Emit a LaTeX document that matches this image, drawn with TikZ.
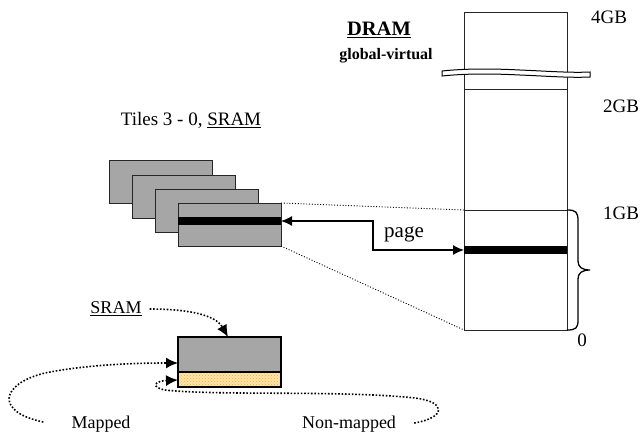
\documentclass[tikz,border=0pt]{standalone}
\usepackage{fontspec}
\setmainfont{Liberation Serif}
\usetikzlibrary{arrows.meta,patterns,calc}
\definecolor{tilegray}{RGB}{166,166,166}
\definecolor{orbase}{RGB}{255,228,172}
\definecolor{ordot}{RGB}{245,172,55}
\begin{document}
\begin{tikzpicture}[x=1pt,y=-1pt,
  box/.style={inner sep=0pt, outer sep=0pt, anchor=north west},
  tile/.style={box, fill=tilegray, draw=black!85, line width=1pt, minimum width=103pt, minimum height=43pt},
  band/.style={box, fill=black, minimum width=103pt, minimum height=8pt},
  lbl/.style={inner sep=0pt, font=\fontsize{18}{20}\selectfont},
  gb/.style={inner sep=0pt, font=\fontsize{19}{21}\selectfont},
  thindot/.style={line width=0.9pt, dash pattern=on 1pt off 1.8pt},
  dotarrow/.style={line width=1.6pt, dash pattern=on 1.6pt off 1.8pt, -{Latex[length=12pt,width=11pt]}},
  pagearrow/.style={line width=1.3pt, {Latex[length=11pt,width=10pt]}-{Latex[length=11pt,width=10pt]}}
]
\useasboundingbox (0,0) rectangle (641,437);

% DRAM column
\node[box, draw=black!85, line width=0.8pt, minimum width=103pt, minimum height=318pt] (dram) at (464,12) {};
\coordinate (l2a) at (464,89); \coordinate (l2b) at (567,89);
\draw[line width=1pt, black!85] (l2a) -- (l2b);
\coordinate (l1a) at (464,210); \coordinate (l1b) at (567,210);
\draw[line width=1pt, black!85] (l1a) -- (l1b);
\node[band] (db) at (464,246) {};

% break in the column
\draw[line width=1pt, fill=white]
  (442,71) .. controls (470,68) and (500,69) .. (520,70)
  .. controls (545,71) and (570,73) .. (590,72) -- (590,77)
  .. controls (570,78) and (545,76) .. (520,75)
  .. controls (500,74) and (470,73) .. (442,76) -- cycle;

% brace
\draw[line width=1.3pt]
  (567,210) .. controls (576,210) and (578,212) .. (578,221) -- (578,261)
  .. controls (578,267) and (582,270) .. (590,270)
  .. controls (582,270) and (578,273) .. (578,279) -- (578,320)
  .. controls (578,328) and (576,330) .. (567,330);

% labels at the column
\node[gb] (g4) at (609,17) {4GB};
\node[gb] (g2) at (621,106) {2GB};
\node[gb] (g1) at (621,213) {1GB};
\node[gb] (g0) at (582,340) {0};
\node[inner sep=0pt, font=\bfseries\fontsize{20.5}{22}\selectfont] (dramlbl) at (379,30) {\underline{DRAM}};
\node[inner sep=0pt, font=\bfseries\fontsize{16}{18}\selectfont] (gv) at (386,56) {global-virtual};

% tiles
\node[inner sep=0pt, font=\fontsize{19}{21}\selectfont] (tiles) at (191,120) {Tiles 3 - 0, \underline{SRAM}};
\node[tile] (t1) at (109,160) {};
\node[tile] (t2) at (132,175) {};
\node[tile] (t3) at (155,189) {};
\node[tile] (t4) at (178,203) {};
\node[band] (tb) at (178,217) {};

% dotted projection lines
\draw[thindot] (t4.north east) -- (l1a);
\draw[thindot] (t4.south east) -- (dram.south west);

% page arrow
\coordinate (bend) at (373,221);
\draw[pagearrow] (tb.east) -- (bend) |- (db.west);
\node[inner sep=0pt, font=\fontsize{21}{23}\selectfont] (page) at (404,234) {page};

% SRAM box at the bottom
\node[box, fill=tilegray, draw=black, line width=1.2pt, minimum width=103pt, minimum height=35pt] (sg) at (178,337) {};
\node[box, fill=orbase, minimum width=103pt, minimum height=15pt] (so) at (178,372) {};
\fill[pattern=crosshatch dots, pattern color=ordot] (so.north west) rectangle (so.south east);
\draw[line width=1.2pt] (so.north west) rectangle (so.south east);

\node[lbl] (sramlbl) at (116,309) {\underline{SRAM}};
\node[lbl] (mapped) at (101,424) {Mapped};
\node[lbl] (nonmapped) at (349,424) {Non-mapped};

\coordinate (sramin) at ($(sg.north west)+(50,0)$);
\coordinate (mapin) at ($(sg.north west)+(0,26)$);
\coordinate (nmin) at ($(so.north west)+(0,8)$);

\draw[dotarrow] (sramlbl.east) ++(8,0) .. controls (185,309) and (215,314) .. (sramin);
\draw[dotarrow] (mapped.west) ++(-28,-2) .. controls (-5,412) and (0,384) .. (45,373)
  .. controls (90,364) and (140,363) .. (mapin);
\draw[dotarrow] (nonmapped.east) ++(18,-1) .. controls (445,418) and (448,402) .. (415,398)
  .. controls (340,390) and (220,396) .. (165,390)
  .. controls (150,387) and (155,381) .. (nmin);
\end{tikzpicture}
\end{document}
